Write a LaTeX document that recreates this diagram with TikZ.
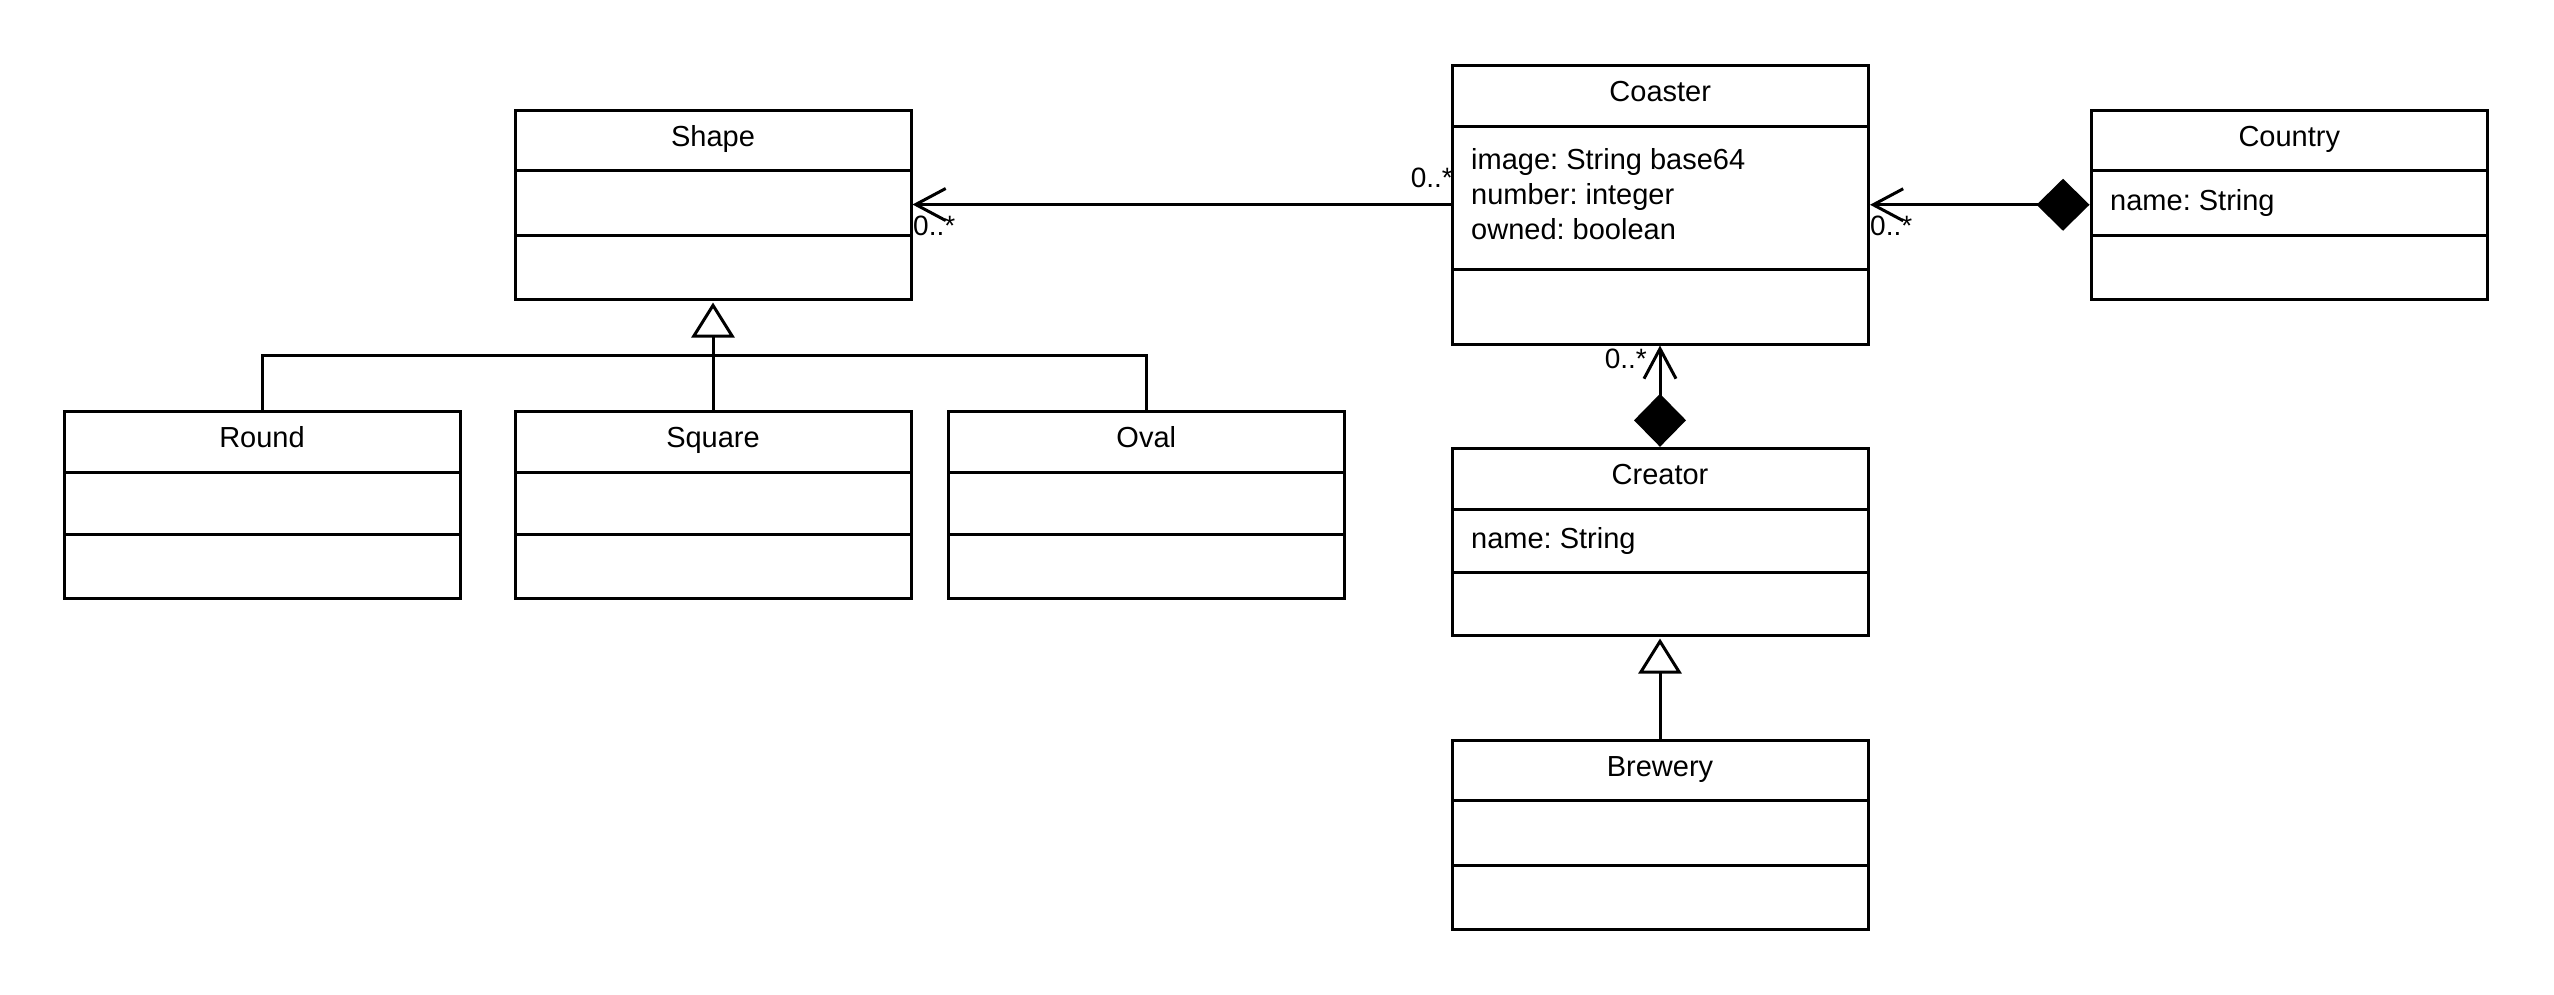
\documentclass[tikz,border=0pt]{standalone}
\usepackage{fontspec}
\setmainfont{Liberation Sans}
\usetikzlibrary{arrows.meta,fit,calc}
\frenchspacing

\tikzset{
  classbox/.style={draw=black, line width=3pt, inner sep=0pt, fill=white},
  divider/.style={draw=black, line width=3pt},
  classtitle/.style={anchor=base, inner sep=0pt, font=\fontsize{29}{34}\selectfont},
  attr/.style={anchor=base west, inner sep=0pt, font=\fontsize{29}{34}\selectfont},
  mult/.style={inner sep=0pt, font=\fontsize{28}{32}\selectfont},
  link/.style={draw=black, line width=3pt},
  assoc/.style={link, -{Straight Barb[length=30pt, width=32pt]}},
  comp/.style={link, {Diamond[length=53pt, width=52pt, fill=black]}-{Straight Barb[length=30pt, width=32pt]}},
  gen/.style={link, -{Triangle[open, length=35pt, width=43pt, fill=white]}},
}

% class box: name, left, top, right, first divider, second divider, bottom, title
\newcommand\umlclass[8]{%
  \node[classbox, fit={(#2,#3) (#4,#7)}] (#1) {};
  \draw[divider] (#2,#5) -- (#4,#5);
  \draw[divider] (#2,#6) -- (#4,#6);
  \node[classtitle] (#1-title) at ($(#1.north)+(0,37.5)$) {#8};
}

\begin{document}
\begin{tikzpicture}[x=1pt, y=-1pt]
  \useasboundingbox (0,0) rectangle (2554,994);

  % classes
  \umlclass{shape}{515}{110.5}{911}{170.7}{235.2}{299}{Shape}
  \umlclass{round}{64}{411.3}{460}{472.7}{534.7}{598}{Round}
  \umlclass{square}{515}{411.3}{911}{472.7}{534.7}{598}{Square}
  \umlclass{oval}{948.3}{411.3}{1344.3}{472.7}{534.7}{598}{Oval}
  \umlclass{coaster}{1452}{65}{1868.5}{126.7}{269.3}{344}{Coaster}
  \umlclass{country}{2091}{110.5}{2487.5}{170.7}{235.2}{299}{Country}
  \umlclass{creator}{1452}{448.3}{1868}{509}{572}{635}{Creator}
  \umlclass{brewery}{1452}{740.7}{1868}{800.7}{865.7}{929.3}{Brewery}

  % attributes
  \node[attr] (coaster-a1) at (1471,169.3) {image: String base64};
  \node[attr] (coaster-a2) at (1471,204.3) {number: integer};
  \node[attr] (coaster-a3) at (1471,239.3) {owned: boolean};
  \node[attr] (country-a1) at (2110,210) {name: String};
  \node[attr] (creator-a1) at (1471,548) {name: String};

  % generalizations
  \coordinate (bar) at (0,355.5);
  \draw[link] (round.north) |- (oval.north |- bar) -- (oval.north);
  \draw[gen] (square.north) -- ([yshift=-2pt]shape.south);
  \draw[gen] (brewery.north) -- ([yshift=-2pt]creator.south);

  % associations
  \draw[assoc] (coaster.west) -- (coaster.west -| shape.east);
  \draw[comp] (country.west) -- (country.west -| coaster.east);
  \draw[comp] (creator.north) -- (creator.north |- coaster.south);

  % multiplicities
  \node[mult, anchor=base west] (m1) at (913,235) {0..*};
  \node[mult, anchor=base east] (m2) at (1453,187) {0..*};
  \node[mult, anchor=base west] (m3) at (1870,235) {0..*};
  \node[mult, anchor=base east] (m4) at (1647,368) {0..*};
\end{tikzpicture}
\end{document}
